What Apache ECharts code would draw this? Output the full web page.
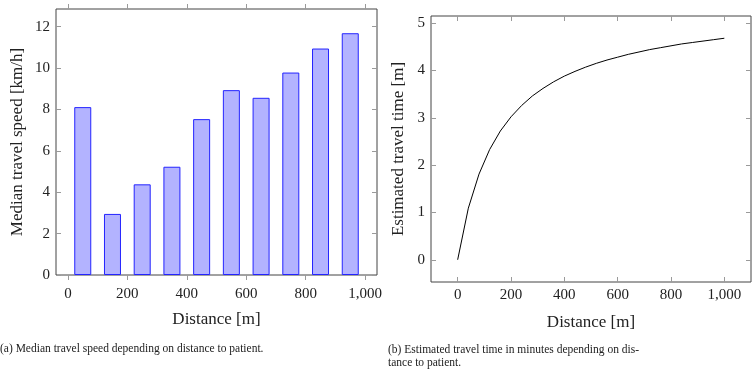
<!DOCTYPE html>
<html>
<head>
<meta charset="utf-8">
<script src="https://cdn.jsdelivr.net/npm/echarts@6/dist/echarts.min.js"></script>
<style>
  html, body { margin: 0; padding: 0; background: #fff; }
  #main { width: 754px; height: 372px; }
</style>
</head>
<body>
<div id="main"></div>
<script>
// (a) median travel speed per 100 m distance bucket
var barDistances = [50, 150, 250, 350, 450, 550, 650, 750, 850, 950];
var medianSpeed = [8.11, 2.95, 4.38, 5.23, 7.53, 8.93, 8.56, 9.78, 10.94, 11.68];

// (b) estimated travel time [min]
var curveDistances = [0, 40, 80, 120, 160, 200, 240, 280, 320, 360, 400, 440, 480,
  520, 560, 600, 640, 680, 720, 760, 800, 840, 880, 920, 960, 1000];
var travelTime = [0, 1.09, 1.81, 2.33, 2.72, 3.02, 3.26, 3.46, 3.62, 3.76, 3.88, 3.98, 4.07,
  4.15, 4.22, 4.28, 4.34, 4.39, 4.44, 4.48, 4.52, 4.56, 4.59, 4.62, 4.65, 4.68];

var xTicks = [0, 200, 400, 600, 800, 1000];
var speedTicks = [0, 2, 4, 6, 8, 10, 12];
var timeTicks = [0, 1, 2, 3, 4, 5];

var font = '"Liberation Serif", "DejaVu Serif", serif';
var tickColor = '#9a9a9a';

function fmt(v) {
  return v >= 1000 ? String(v).replace(/(\d)(?=(\d{3})+$)/g, '$1,') : String(v);
}

// one axis; mirror axes only carry ticks
function axis(grid, pos, min, max, ticks, inside, labels, margin, name, gap) {
  var a = {
    type: 'value', gridIndex: grid, position: pos, min: min, max: max,
    splitLine: { show: false },
    axisLine: { show: false, onZero: false },
    axisTick: { show: true, inside: inside, length: 5, customValues: ticks,
      lineStyle: { color: tickColor, width: 1 } },
    axisLabel: { show: labels, customValues: ticks, formatter: fmt,
      fontFamily: font, fontSize: 15, color: '#222', margin: margin }
  };
  if (name) {
    a.name = name;
    a.nameLocation = 'middle';
    a.nameGap = gap;
    a.nameMoveOverlap = false;
    a.nameTextStyle = { fontFamily: font, fontSize: 17, color: '#222' };
  }
  return a;
}

var chart = echarts.init(document.getElementById('main'));

var option = {
  animation: false,
  grid: [
    { left: 56, top: 9, width: 321, height: 266, show: true,
      borderColor: '#444', borderWidth: 1, backgroundColor: 'transparent' },
    { left: 431, top: 16, width: 320, height: 266, show: true,
      borderColor: '#444', borderWidth: 1, backgroundColor: 'transparent' }
  ],
  xAxis: [
    axis(0, 'bottom', -40, 1040, xTicks, false, true, 12, 'Distance [m]', 36),
    axis(0, 'top', -40, 1040, xTicks, false, false, 6),
    axis(1, 'bottom', -100, 1100, xTicks, true, true, 6, 'Distance [m]', 32),
    axis(1, 'top', -100, 1100, xTicks, true, false, 6)
  ],
  yAxis: [
    axis(0, 'left', 0, 12.85, speedTicks, true, true, 6, 'Median travel speed [km/h]', 30),
    axis(0, 'right', 0, 12.85, speedTicks, true, false, 6),
    axis(1, 'left', -0.47, 5.15, timeTicks, true, true, 6, 'Estimated travel time [m]', 24),
    axis(1, 'right', -0.47, 5.15, timeTicks, true, false, 6)
  ],
  series: [
    {
      type: 'bar', xAxisIndex: 0, yAxisIndex: 0, barWidth: 17,
      data: barDistances.map(function (d, i) { return [d, medianSpeed[i]]; }),
      itemStyle: { color: '#b3b3ff', borderColor: '#2424ff', borderWidth: 1 }
    },
    {
      type: 'line', xAxisIndex: 2, yAxisIndex: 2, symbol: 'none',
      data: curveDistances.map(function (d, i) { return [d, travelTime[i]]; }),
      lineStyle: { color: '#000', width: 1 }
    }
  ],
  graphic: [
    { type: 'text', left: 0, top: 343,
      style: { text: '(a) Median travel speed depending on distance to patient.',
        font: '11.5px ' + font, fill: '#222' } },
    { type: 'text', left: 388, top: 343,
      style: { text: '(b) Estimated travel time in minutes depending on dis-\ntance to patient.',
        font: '11.5px ' + font, fill: '#222', lineHeight: 13 } }
  ]
};

chart.setOption(option);
</script>
</body>
</html>
